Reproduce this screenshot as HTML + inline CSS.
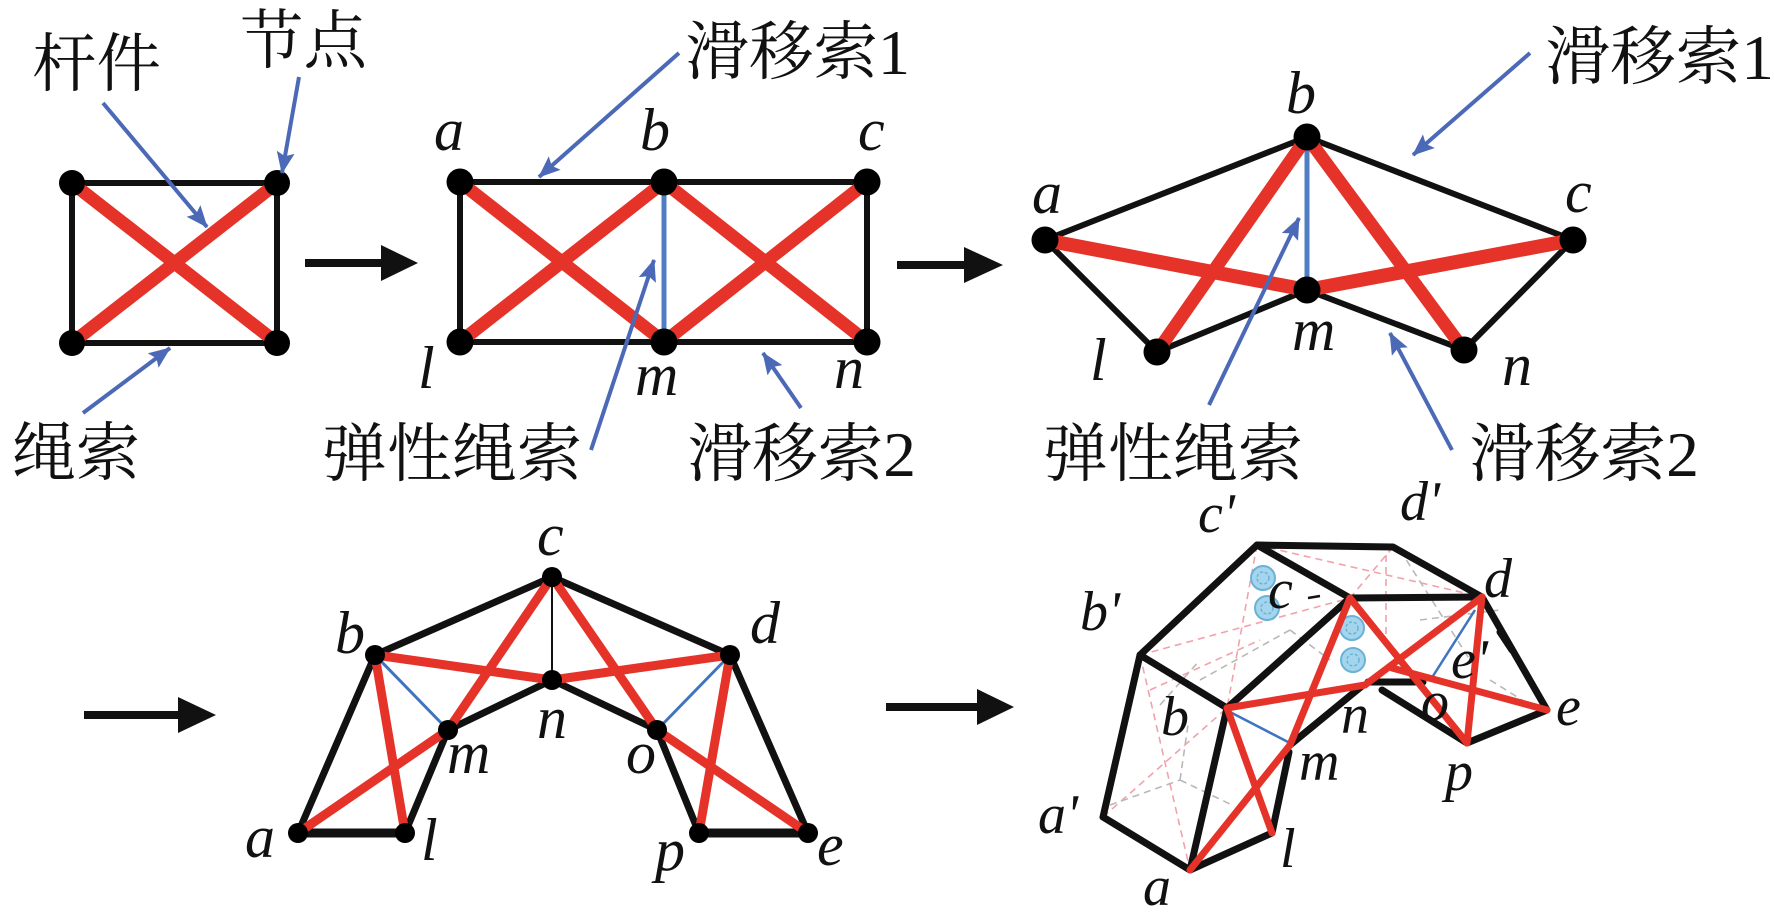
<!DOCTYPE html>
<html>
<head>
<meta charset="utf-8">
<style>
  html,body{margin:0;padding:0;background:#fff;}
  svg{display:block;}
  .cn{font-family:"Liberation Serif","Noto Serif CJK SC","Noto Serif CJK JP","DejaVu Serif","Times New Roman",serif;font-size:64px;font-style:normal;}
  .it{font-family:"Liberation Serif","DejaVu Serif","Times New Roman",serif;font-style:italic;}
</style>
</head>
<body>
<svg width="1774" height="915" viewBox="0 0 1774 915" xmlns="http://www.w3.org/2000/svg">
  <defs>
    <marker id="ah" markerWidth="24" markerHeight="20" refX="21" refY="9" orient="auto" markerUnits="userSpaceOnUse">
      <path d="M0,0 L22,9 L0,18 L4,9 Z" fill="#4b69b6"/>
    </marker>
  </defs>
  <rect width="1774" height="915" fill="#fff"/>

  <!-- ================= PANEL 1 ================= -->
  <g stroke-linecap="round" stroke-linejoin="round" fill="none">
    <polygon points="72,183 277,183 277,343 72,343" stroke="#111" stroke-width="6"/>
    <line x1="72" y1="183" x2="277" y2="343" stroke="#e63329" stroke-width="13"/>
    <line x1="277" y1="183" x2="72" y2="343" stroke="#e63329" stroke-width="13"/>
  </g>
  <g fill="#000">
    <circle cx="72" cy="183" r="13"/><circle cx="277" cy="183" r="13"/>
    <circle cx="72" cy="343" r="13"/><circle cx="277" cy="343" r="13"/>
  </g>

  <g stroke="#4b69b6" stroke-width="4" fill="none" marker-end="url(#ah)">
    <line x1="103" y1="103" x2="207" y2="227"/>
    <line x1="299" y1="77" x2="282" y2="173"/>
    <line x1="83" y1="413" x2="170" y2="348"/>
  </g>

  <line x1="305" y1="263" x2="386" y2="263" stroke="#111" stroke-width="8"/>
  <polygon points="381,245 418,263 381,281" fill="#111"/>

  <!-- ================= PANEL 2 ================= -->
  <g stroke-linecap="round" stroke-linejoin="round" fill="none">
    <polygon points="460,182 867,182 867,342 460,342" stroke="#111" stroke-width="6"/>
    <line x1="664" y1="182" x2="664" y2="342" stroke="#4f7fc2" stroke-width="5"/>
    <line x1="460" y1="182" x2="664" y2="342" stroke="#e63329" stroke-width="13"/>
    <line x1="664" y1="182" x2="460" y2="342" stroke="#e63329" stroke-width="13"/>
    <line x1="664" y1="182" x2="867" y2="342" stroke="#e63329" stroke-width="13"/>
    <line x1="867" y1="182" x2="664" y2="342" stroke="#e63329" stroke-width="13"/>
  </g>
  <g fill="#000">
    <circle cx="460" cy="182" r="13.5"/><circle cx="664" cy="182" r="13.5"/><circle cx="867" cy="182" r="13.5"/>
    <circle cx="460" cy="342" r="13.5"/><circle cx="664" cy="342" r="13.5"/><circle cx="867" cy="342" r="13.5"/>
  </g>

  <g stroke="#4b69b6" stroke-width="4" fill="none" marker-end="url(#ah)">
    <line x1="679" y1="53" x2="539" y2="177"/>
    <line x1="591" y1="450" x2="654" y2="260"/>
    <line x1="801" y1="408" x2="763" y2="353"/>
  </g>

  <line x1="897" y1="265" x2="968" y2="265" stroke="#111" stroke-width="8"/>
  <polygon points="964,247 1003,265 964,283" fill="#111"/>

  <!-- ================= PANEL 3 ================= -->
  <g stroke-linecap="round" stroke-linejoin="round" fill="none">
    <polyline points="1045,240 1307,137 1573,240" stroke="#111" stroke-width="6"/>
    <polyline points="1045,240 1157,352 1307,290 1464,350 1573,240" stroke="#111" stroke-width="6"/>
    <line x1="1307" y1="137" x2="1307" y2="290" stroke="#4f7fc2" stroke-width="5"/>
    <line x1="1045" y1="240" x2="1307" y2="290" stroke="#e63329" stroke-width="14"/>
    <line x1="1307" y1="290" x2="1573" y2="240" stroke="#e63329" stroke-width="14"/>
    <line x1="1307" y1="137" x2="1157" y2="352" stroke="#e63329" stroke-width="13"/>
    <line x1="1307" y1="137" x2="1464" y2="350" stroke="#e63329" stroke-width="13"/>
  </g>
  <g fill="#000">
    <circle cx="1045" cy="240" r="13.5"/><circle cx="1307" cy="137" r="13.5"/><circle cx="1573" cy="240" r="13.5"/>
    <circle cx="1307" cy="290" r="13.5"/><circle cx="1157" cy="352" r="13.5"/><circle cx="1464" cy="350" r="13.5"/>
  </g>

  <g stroke="#4b69b6" stroke-width="4" fill="none" marker-end="url(#ah)">
    <line x1="1530" y1="53" x2="1413" y2="155"/>
    <line x1="1209" y1="405" x2="1299" y2="218"/>
    <line x1="1452" y1="450" x2="1390" y2="333"/>
  </g>

  <!-- ================= PANEL 4 ================= -->
  <line x1="84" y1="715" x2="182" y2="715" stroke="#111" stroke-width="8"/>
  <polygon points="178,697 216,715 178,733" fill="#111"/>

  <g stroke-linecap="round" stroke-linejoin="round" fill="none">
    <polyline points="298,833 375,655 552,577 730,655 808,833" stroke="#111" stroke-width="7"/>
    <polyline points="405,833 448,730 552,680 657,730 699,833" stroke="#111" stroke-width="7"/>
    <line x1="298" y1="833" x2="405" y2="833" stroke="#111" stroke-width="9"/>
    <line x1="699" y1="833" x2="808" y2="833" stroke="#111" stroke-width="9"/>
    <line x1="552" y1="577" x2="552" y2="680" stroke="#111" stroke-width="2"/>
    <line x1="375" y1="655" x2="448" y2="730" stroke="#3f74c0" stroke-width="3"/>
    <line x1="730" y1="655" x2="657" y2="730" stroke="#3f74c0" stroke-width="3"/>
    <g stroke="#e63329" stroke-width="9">
      <line x1="552" y1="577" x2="448" y2="730"/>
      <line x1="448" y1="730" x2="298" y2="833"/>
      <line x1="375" y1="655" x2="405" y2="833"/>
      <line x1="375" y1="655" x2="552" y2="680"/>
      <line x1="552" y1="680" x2="730" y2="655"/>
      <line x1="552" y1="577" x2="657" y2="730"/>
      <line x1="730" y1="655" x2="699" y2="833"/>
      <line x1="657" y1="730" x2="808" y2="833"/>
    </g>
  </g>
  <g fill="#000">
    <circle cx="552" cy="577" r="10"/><circle cx="375" cy="655" r="10"/><circle cx="730" cy="655" r="10"/>
    <circle cx="552" cy="680" r="10"/><circle cx="448" cy="730" r="10"/><circle cx="657" cy="730" r="10"/>
    <circle cx="298" cy="833" r="10"/><circle cx="405" cy="833" r="10"/><circle cx="699" cy="833" r="10"/><circle cx="808" cy="833" r="10"/>
  </g>

  <!-- ================= PANEL 5 ================= -->
  <line x1="886" y1="707" x2="981" y2="707" stroke="#111" stroke-width="8"/>
  <polygon points="977,689 1014,707 977,725" fill="#111"/>

  <g fill="none" stroke-width="1.6" stroke-dasharray="7,5">
    <g stroke="#f2a2aa">
      <line x1="1140" y1="655" x2="1350" y2="598"/>
      <line x1="1257" y1="545" x2="1227" y2="708"/>
      <line x1="1103" y1="817" x2="1227" y2="708"/>
      <line x1="1140" y1="655" x2="1190" y2="870"/>
      <line x1="1257" y1="545" x2="1482" y2="597"/>
      <line x1="1393" y1="547" x2="1350" y2="598"/>
      <line x1="1386" y1="555" x2="1386" y2="640"/>
      <line x1="1150" y1="690" x2="1260" y2="640"/>
    </g>
    <g stroke="#b8b8b8">
      <line x1="1110" y1="805" x2="1180" y2="780"/>
      <line x1="1180" y1="780" x2="1232" y2="805"/>
      <line x1="1180" y1="780" x2="1188" y2="725"/>
      <line x1="1200" y1="680" x2="1290" y2="630"/>
      <line x1="1290" y1="630" x2="1330" y2="660"/>
      <line x1="1400" y1="550" x2="1470" y2="660"/>
      <line x1="1420" y1="620" x2="1500" y2="610"/>
      <line x1="1490" y1="680" x2="1530" y2="705"/>
      <line x1="1160" y1="705" x2="1200" y2="660"/>
    </g>
  </g>

  <g stroke="#6ab2d8" stroke-width="2" fill="#a4d5ec">
    <circle cx="1263" cy="578" r="12"/><circle cx="1267" cy="608" r="12"/>
    <circle cx="1352" cy="628" r="12"/><circle cx="1353" cy="660" r="12"/>
  </g>
  <g stroke="#6ab2d8" stroke-width="1.5" fill="none" stroke-dasharray="3,2">
    <circle cx="1263" cy="578" r="6"/><circle cx="1267" cy="608" r="6"/>
    <circle cx="1352" cy="628" r="6"/><circle cx="1353" cy="660" r="6"/>
  </g>

  <g stroke="#111" stroke-width="7" fill="none" stroke-linecap="round" stroke-linejoin="round">
    <polyline points="1190,870 1103,817 1140,655 1227,708 1190,870 1272,833 1289,752"/>
    <polyline points="1140,655 1257,545 1393,547 1482,597 1547,710 1467,743 1382,690"/>
    <line x1="1257" y1="545" x2="1350" y2="598"/>
    <line x1="1227" y1="708" x2="1350" y2="598"/>
    <line x1="1350" y1="598" x2="1482" y2="597"/>
    <line x1="1368" y1="682" x2="1423" y2="682"/>
    <line x1="1290" y1="745" x2="1362" y2="686"/>
    <line x1="1500" y1="632" x2="1512" y2="650"/>
  </g>

  <g stroke="#3f74c0" stroke-width="2.5" fill="none">
    <line x1="1230" y1="712" x2="1288" y2="742"/>
    <line x1="1475" y1="610" x2="1433" y2="676"/>
  </g>

  <g stroke="#e63329" stroke-width="7" fill="none" stroke-linecap="round">
    <line x1="1190" y1="870" x2="1290" y2="745"/>
    <line x1="1272" y1="833" x2="1227" y2="708"/>
    <line x1="1290" y1="745" x2="1350" y2="598"/>
    <line x1="1227" y1="708" x2="1365" y2="685"/>
    <line x1="1365" y1="685" x2="1482" y2="597"/>
    <line x1="1350" y1="598" x2="1467" y2="743"/>
    <line x1="1482" y1="597" x2="1467" y2="743"/>
    <line x1="1392" y1="668" x2="1547" y2="710"/>
  </g>
  <line x1="1308" y1="598" x2="1320" y2="596" stroke="#111" stroke-width="2.5"/>

  <!-- ================= CHINESE TEXT ================= -->
  <g class="cn" fill="#111">
    <text x="32" y="86" textLength="129" lengthAdjust="spacingAndGlyphs">杆件</text>
    <text x="240" y="63" textLength="127" lengthAdjust="spacingAndGlyphs">节点</text>
    <text x="12" y="475" textLength="128" lengthAdjust="spacingAndGlyphs">绳索</text>
    <text x="685" y="74" textLength="225" lengthAdjust="spacingAndGlyphs">滑移索1</text>
    <text x="322" y="476" textLength="260" lengthAdjust="spacingAndGlyphs">弹性绳索</text>
    <text x="687" y="476" textLength="229" lengthAdjust="spacingAndGlyphs">滑移索2</text>
    <text x="1545" y="79" textLength="229" lengthAdjust="spacingAndGlyphs">滑移索1</text>
    <text x="1043" y="476" textLength="260" lengthAdjust="spacingAndGlyphs">弹性绳索</text>
    <text x="1469" y="476" textLength="230" lengthAdjust="spacingAndGlyphs">滑移索2</text>
  </g>

  <!-- ================= ITALIC LABELS (panels 2-4) ================= -->
  <g class="it" fill="#111" font-size="60" style="font-size:60px">
    <text x="434" y="150">a</text>
    <text x="640" y="150">b</text>
    <text x="858" y="150">c</text>
    <text x="418" y="388">l</text>
    <text x="635" y="395">m</text>
    <text x="834" y="388">n</text>

    <text x="1032" y="213">a</text>
    <text x="1286" y="113">b</text>
    <text x="1565" y="212">c</text>
    <text x="1292" y="350">m</text>
    <text x="1090" y="380">l</text>
    <text x="1502" y="385">n</text>

    <text x="537" y="555">c</text>
    <text x="335" y="653">b</text>
    <text x="750" y="643">d</text>
    <text x="537" y="738">n</text>
    <text x="447" y="773">m</text>
    <text x="626" y="773">o</text>
    <text x="245" y="857">a</text>
    <text x="421" y="860">l</text>
    <text x="655" y="870">p</text>
    <text x="817" y="865">e</text>
  </g>

  <!-- ================= ITALIC LABELS (panel 5) ================= -->
  <g class="it" fill="#111" font-size="56" style="font-size:56px">
    <text x="1198" y="532">c'</text>
    <text x="1400" y="520">d'</text>
    <text x="1080" y="630">b'</text>
    <text x="1268" y="608">c</text>
    <text x="1484" y="597">d</text>
    <text x="1451" y="678">e'</text>
    <text x="1556" y="725">e</text>
    <text x="1161" y="735">b</text>
    <text x="1341" y="733">n</text>
    <text x="1421" y="720">o</text>
    <text x="1299" y="780">m</text>
    <text x="1445" y="790">p</text>
    <text x="1280" y="867">l</text>
    <text x="1143" y="905">a</text>
    <text x="1038" y="833">a'</text>
  </g>
</svg>
</body>
</html>
